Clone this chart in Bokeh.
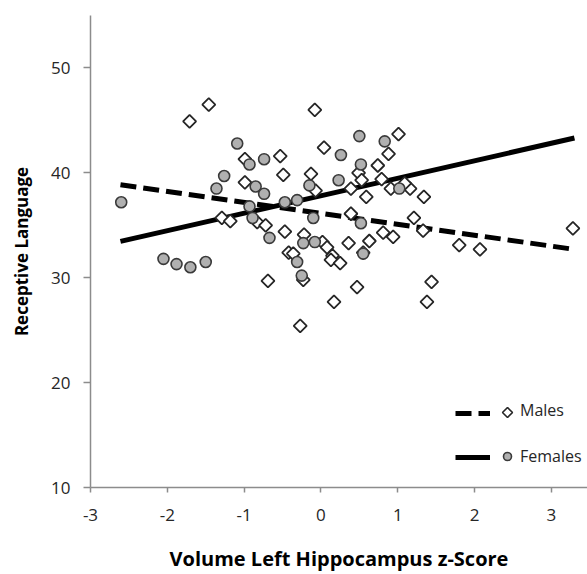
import numpy as np
from bokeh.plotting import figure
from bokeh.models import Range1d, FixedTicker, Legend, LegendItem, PolyAnnotation
from bokeh.embed import file_html
from bokeh.resources import INLINE

# Males (diamonds)
male_x = [-1.46, -1.71, -0.99, -0.53, -0.49, -0.99, -1.29, -1.18, -0.83, -0.72,
          -0.47, -0.42, -0.36, -0.69, -0.27, -0.08, 1.01, 0.04, 0.88, 0.74,
          0.49, -0.13, 0.53, 0.79, -0.07, 0.39, 0.91, 1.16, 1.09, 0.59,
          1.34, 0.39, 1.21, 0.81, 1.33, -0.22, 0.02, 0.08, 0.36, 0.63,
          0.94, 0.15, 0.13, 0.25, 0.55, -0.23, 0.47, 1.44, 0.17, 1.38,
          1.80, 2.07, 3.28]
male_y = [46.5, 44.9, 41.3, 41.6, 39.8, 39.1, 35.7, 35.4, 35.3, 35.0,
          34.4, 32.4, 32.3, 29.7, 25.4, 46.0, 43.7, 42.4, 41.8, 40.7,
          40.0, 39.9, 39.3, 39.4, 38.3, 38.5, 38.5, 38.5, 39.0, 37.7,
          37.7, 36.1, 35.7, 34.3, 34.5, 34.1, 33.4, 32.9, 33.3, 33.5,
          33.9, 32.1, 31.7, 31.4, 32.4, 29.8, 29.1, 29.6, 27.7, 27.7,
          33.1, 32.7, 34.7]

# Females (circles)
female_x = [-1.09, -0.93, -0.74, -1.26, -1.36, -0.85, -0.74, -2.60, -0.93, -0.47,
            -0.31, -0.89, -2.05, -1.88, -1.70, -1.50, -0.67, -0.31, -0.25, 0.50,
            0.83, 0.26, 0.52, 0.23, -0.15, 1.02, -0.10, 0.52, -0.23, -0.08,
            0.55]
female_y = [42.8, 40.8, 41.3, 39.7, 38.5, 38.7, 38.0, 37.2, 36.8, 37.2,
            37.4, 35.7, 31.8, 31.3, 31.0, 31.5, 33.8, 31.5, 30.2, 43.5,
            43.0, 41.7, 40.8, 39.3, 38.8, 38.5, 35.7, 35.2, 33.3, 33.4,
            32.3]

# Trend lines
fit_x = [-2.61, 3.30]
male_fit = [38.86, 32.70]
female_fit = [33.46, 43.32]

x_ticks = [-3, -2, -1, 0, 1, 2, 3]
y_ticks = [10, 20, 30, 40, 50]

FONT = "Open Sans"

p = figure(width=587, height=574, output_backend="svg", toolbar_location=None,
           x_range=Range1d(-3, 3.47), y_range=Range1d(10, 55),
           min_border_left=90, min_border_right=0, min_border_top=15,
           min_border_bottom=87)

p.grid.visible = False
p.outline_line_color = None
p.background_fill_color = "white"

DIAMOND_LINE = "#262626"
mline = p.line(fit_x, male_fit, line_color="black", line_width=5, line_dash="16 7")
fline = p.line(fit_x, female_fit, line_color="black", line_width=5)

msc = p.scatter(male_x, male_y, marker="square", size=9.2, angle=np.pi / 4,
                fill_color="white", line_color=DIAMOND_LINE, line_width=1.8)
fsc = p.scatter(female_x, female_y, marker="circle", size=11,
                fill_color="#b0b0b0", line_color="#3a3a3a", line_width=1.6)
# invisible stand-in so the legend key for males can be drawn as a true diamond
mkey = p.scatter([], [], marker="square", size=1, fill_alpha=0, line_alpha=0)

for ax, ticks, tout in ((p.xaxis, x_ticks, 5), (p.yaxis, y_ticks, 7)):
    ax.ticker = FixedTicker(ticks=ticks)
    ax.major_label_overrides = {t: str(t) for t in ticks}
    ax.minor_tick_line_color = None
    ax.major_tick_in = 0
    ax.major_tick_out = tout
    ax.axis_line_color = "#8c8c8c"
    ax.axis_line_width = 1.5
    ax.major_tick_line_color = "#8c8c8c"
    ax.major_tick_line_width = 1.5
    ax.major_label_text_font = FONT
    ax.major_label_text_font_size = "17px"
    ax.major_label_text_color = "#262626"
    ax.axis_label_text_font = FONT
    ax.axis_label_text_font_style = "bold"
    ax.axis_label_text_color = "black"

p.xaxis.axis_label = "Volume Left Hippocampus z-Score"
p.xaxis.axis_label_text_font_size = "20px"
p.xaxis.major_label_standoff = 16
p.xaxis.axis_label_standoff = 21
p.yaxis.axis_label = "Receptive Language"
p.yaxis.axis_label_text_font_size = "17px"
p.yaxis.major_label_standoff = 13
p.yaxis.axis_label_standoff = 15

common = dict(orientation="vertical", padding=0, margin=0, spacing=24,
              glyph_height=20, label_height=20, border_line_color=None,
              background_fill_alpha=0, label_text_font=FONT,
              label_text_font_size="16px", label_text_color="#262626")

legA = Legend(items=[LegendItem(label=" ", renderers=[mline]),
                     LegendItem(label=" ", renderers=[fline])],
              location=(365, 20), glyph_width=35, label_standoff=0, label_width=0,
              **common)
legB = Legend(items=[LegendItem(label="Males", renderers=[mkey]),
                     LegendItem(label="Females", renderers=[fsc])],
              location=(407, 20), glyph_width=20, label_standoff=3,
              **common)
p.add_layout(legA)
p.add_layout(legB)

# diamond legend key (canvas units)
kx, ky, kr = 507, 412, 5.0
p.add_layout(PolyAnnotation(xs=[kx, kx + kr, kx, kx - kr], ys=[ky - kr, ky, ky + kr, ky],
                            xs_units="canvas", ys_units="canvas",
                            fill_color="white", fill_alpha=1.0,
                            line_color=DIAMOND_LINE, line_alpha=1.0, line_width=1.6))

open("out.html", "w").write(file_html(p, INLINE))
